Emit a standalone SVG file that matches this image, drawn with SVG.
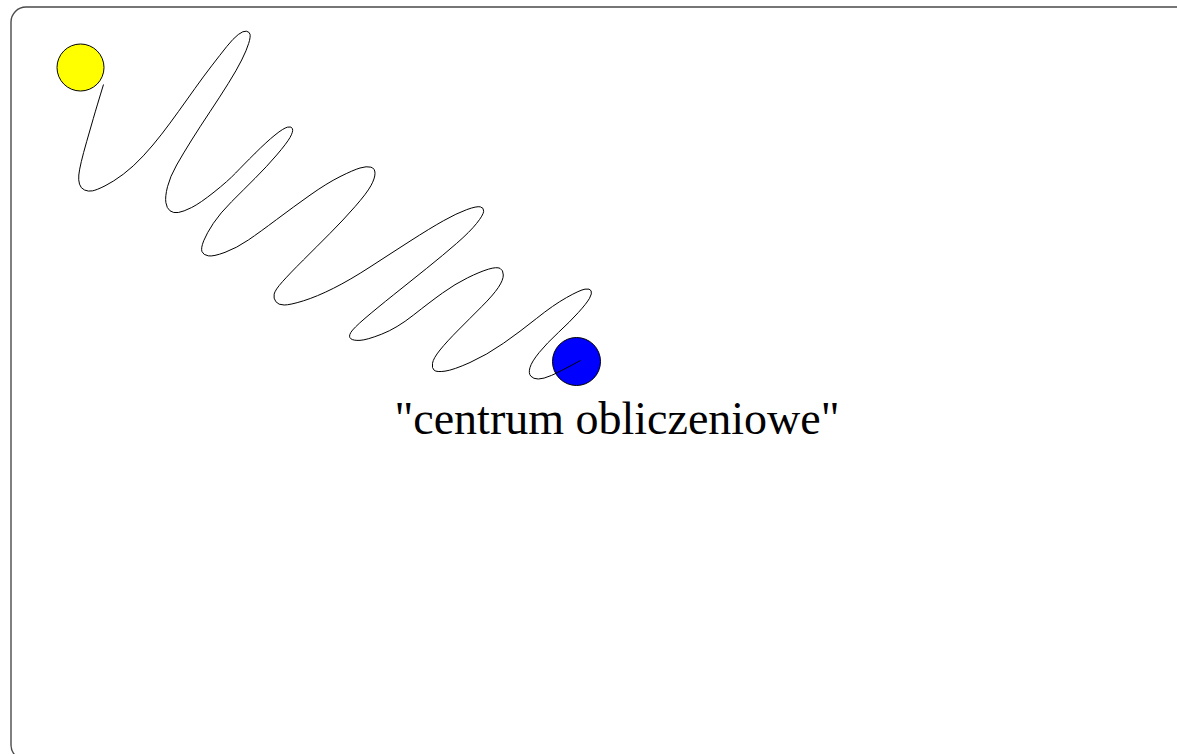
<svg xmlns="http://www.w3.org/2000/svg" width="1177" height="754" viewBox="0 0 1177 754">
<style>
.frame{fill:#ffffff;stroke:#4a4a4a;stroke-width:1.4}
.node{stroke:#000000;stroke-width:1}
.conn{fill:none;stroke:#000000;stroke-width:1}
.label{font-family:"Liberation Serif","Times New Roman",serif;font-size:46px;fill:#000000}
</style>
<rect class="frame" x="11" y="7" width="1185" height="753" rx="15" ry="15"/>
<g id="node-yellow">
<circle class="node" cx="80.5" cy="67.5" r="23.5" fill="#ffff00"/>
</g>
<g id="node-blue">
<circle class="node" cx="576.5" cy="361.5" r="24" fill="#0000ff"/>
<text class="label" x="617" y="434" text-anchor="middle">"centrum obliczeniowe"</text>
</g>
<g id="connectors">
<path class="conn" d="M103.5,84.5 Q96.7,106.7 93.35,118.35 Q90,130 86.65,141.65 Q83.3,153.3 81.3,161.65 Q79.3,170 78.8,175 Q78.3,180 79.5,184.15 Q80.7,188.3 84.5,190 Q88.3,191.7 92.5,190.85 Q96.7,190 105,185.85 Q113.3,181.7 123.3,174.2 Q133.3,166.7 143.3,155.85 Q153.3,145 161.65,134.15 Q170,123.3 178.35,111.65 Q186.7,100 195,88.35 Q203.3,76.7 211.65,65.85 Q220,55 226.65,46.65 Q233.3,38.3 238.3,34.5 Q243.3,30.7 246.3,31.2 Q249.3,31.7 250,34.2 Q250.7,36.7 248.7,43.35 Q246.7,50 241.7,60 Q236.7,70 228.35,83.35 Q220,96.7 210,111.7 Q200,126.7 191.65,140 Q183.3,153.3 176.65,165 Q170,176.7 167.5,186.7 Q165,196.7 165.85,202.5 Q166.7,208.3 170,210.8 Q173.3,213.3 178.3,212.5 Q183.3,211.7 191.65,207.5 Q200,203.3 214,192.15 Q228,181 235.65,173 Q243.3,165 255,153.35 Q266.7,141.7 275,135 Q283.3,128.3 287.5,127.15 Q291.7,126 292.5,128.85 Q293.3,131.7 290,137.5 Q286.7,143.3 276.7,155 Q266.7,166.7 255,178.35 Q243.3,190 231.65,201.65 Q220,213.3 213.35,223.3 Q206.7,233.3 203.7,240.8 Q200.7,248.3 202,251.65 Q203.3,255 208.3,255.85 Q213.3,256.7 225,252.35 Q236.7,248 248.35,240 Q260,232 276.65,219.5 Q293.3,207 310,195.15 Q326.7,183.3 340,176.65 Q353.3,170 360,168 Q366.7,166 370.85,167.15 Q375,168.3 375,173.3 Q375,178.3 370.85,185.8 Q366.7,193.3 355,206.65 Q343.3,220 330,233.35 Q316.7,246.7 303.35,260 Q290,273.3 282.5,281.65 Q275,290 274.15,294.15 Q273.3,298.3 275.8,301.65 Q278.3,305 284.15,305 Q290,305 303.35,300.85 Q316.7,296.7 333.35,288.35 Q350,280 370,267 Q390,254 410,241.15 Q430,228.3 443.35,220.8 Q456.7,213.3 466.7,209.65 Q476.7,206 480.35,206.85 Q484,207.7 483.65,211.35 Q483.3,215 476.65,223.35 Q470,231.7 456.65,243.35 Q443.3,255 426.65,268.35 Q410,281.7 393.35,295 Q376.7,308.3 365,318.3 Q353.3,328.3 350.8,332.5 Q348.3,336.7 350.8,338.7 Q353.3,340.7 360,340.35 Q366.7,340 381.7,334.15 Q396.7,328.3 413.35,315.15 Q430,302 442.5,293 Q455,284 467.5,277.85 Q480,271.7 488.35,269.2 Q496.7,266.7 500,268.35 Q503.3,270 503.3,275 Q503.3,280 498.3,287.5 Q493.3,295 481.65,306.65 Q470,318.3 458.35,330 Q446.7,341.7 440,350 Q433.3,358.3 432.5,363.3 Q431.7,368.3 434.2,370.3 Q436.7,372.3 445,371.15 Q453.3,370 470,362.5 Q486.7,355 503.35,343.35 Q520,331.7 536.65,318.35 Q553.3,305 566.65,297.5 Q580,290 585,289.15 Q590,288.3 591.15,290.8 Q592.3,293.3 589.5,298.3 Q586.7,303.3 578.35,312.5 Q570,321.7 558.35,332.5 Q546.7,343.3 539.2,352.5 Q531.7,361.7 530,367.5 Q528.3,373.3 530.8,376.15 Q533.3,379 538.3,379 Q543.3,379 551.65,375.35 Q560,371.7 580.7,360.3"/>
</g>
</svg>
